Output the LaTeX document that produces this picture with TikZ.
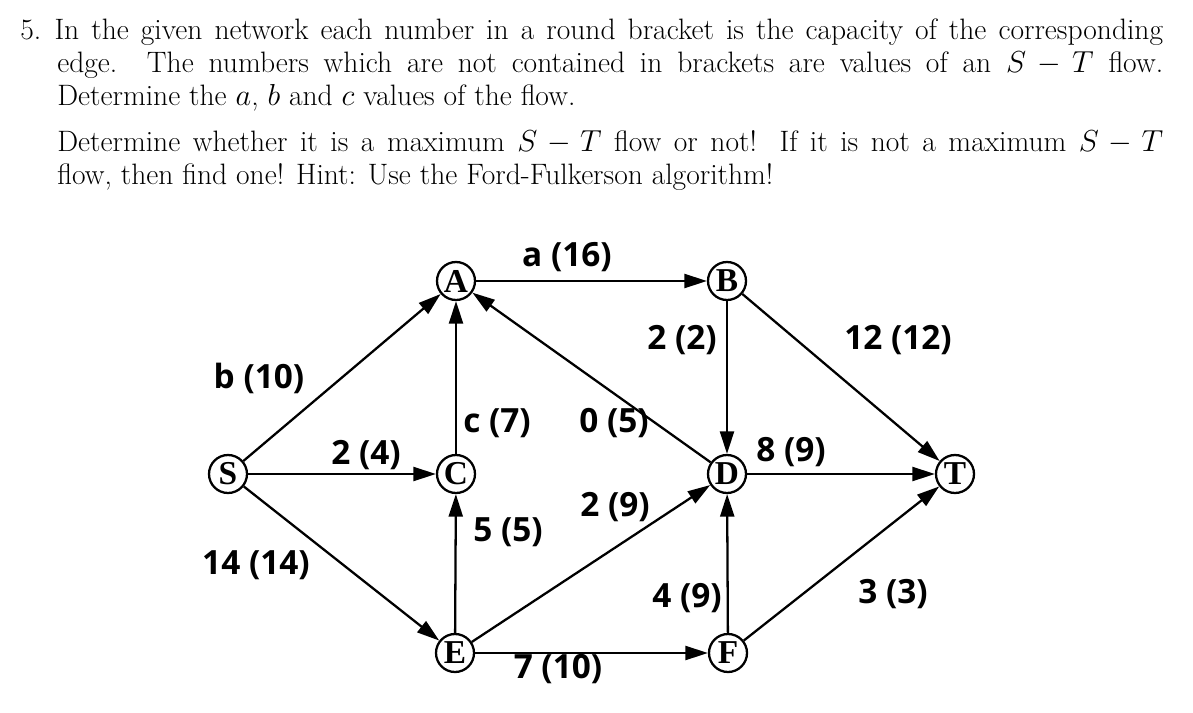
\documentclass[tikz,border=0pt]{standalone}
\usepackage{fontspec}
\newfontfamily\lab{Open Sans}
\newfontfamily\nodef{Liberation Serif}
\usetikzlibrary{arrows.meta}
\begin{document}
\begin{tikzpicture}[x=0.02cm,y=-0.02cm,
 v/.style={circle,draw,line width=1.3pt,minimum size=0.76cm,inner sep=0pt,font=\nodef\bfseries\fontsize{19}{19}\selectfont},
 e/.style={line width=1.3pt,-{Triangle[length=0.45cm,width=0.28cm]}},
 l/.style={font=\lab\bfseries\fontsize{19}{19}\selectfont}]
\useasboundingbox (0,0) rectangle (1193,713);
\node[anchor=north west,text width=22.86cm,align=justify,inner sep=0pt,font=\fontsize{16.8}{18.8}\selectfont] (txt) at (20,18) {%
\hangindent=0.74cm\hangafter=1 5.\hspace{0.45em}In the given network each number in a round bracket is the capacity of the corresponding\linebreak edge. The numbers which are not contained in brackets are values of an $S-T$ flow.\linebreak Determine the $a$, $b$ and $c$ values of the flow.\par
\vspace{0.45em}\leftskip=0.74cm Determine whether it is a maximum $S-T$ flow or not! If it is not a maximum $S-T$\linebreak flow, then find one! Hint: Use the Ford-Fulkerson algorithm!\par};
\node[v] (A) at (456,281) {A};
\node[v] (B) at (727,281) {B};
\node[v] (S) at (228,474) {S};
\node[v] (C) at (456,474) {C};
\node[v] (D) at (727,474) {D};
\node[v] (T) at (955,474) {T};
\node[v] (E) at (455,653) {E};
\node[v] (F) at (728,653) {F};
\draw[e] (A)--(B); \draw[e] (S)--(A); \draw[e] (S)--(C); \draw[e] (S)--(E);
\draw[e] (C)--(A); \draw[e] (D)--(A); \draw[e] (E)--(C); \draw[e] (E)--(D);
\draw[e] (B)--(D); \draw[e] (B)--(T); \draw[e] (D)--(T); \draw[e] (F)--(D);
\draw[e] (F)--(T); \draw[e] (E)--(F);
\node[l] (la) at (567,257) {a (16)};
\node[l] (lb) at (259,378) {b (10)};
\node[l] (l24) at (366,455) {2 (4)};
\node[l] (l14) at (256,565) {14 (14)};
\node[l] (lc) at (497,423) {c (7)};
\node[l] (l05) at (614,423) {0 (5)};
\node[l] (l55) at (508,532) {5 (5)};
\node[l] (l29) at (615,507) {2 (9)};
\node[l] (l22) at (682,340) {2 (2)};
\node[l] (l12) at (898,340) {12 (12)};
\node[l] (l89) at (791,452) {8 (9)};
\node[l] (l49) at (687,598) {4 (9)};
\node[l] (l33) at (893,594) {3 (3)};
\node[l] (l710) at (558,669) {7 (10)};
\end{tikzpicture}
\end{document}
